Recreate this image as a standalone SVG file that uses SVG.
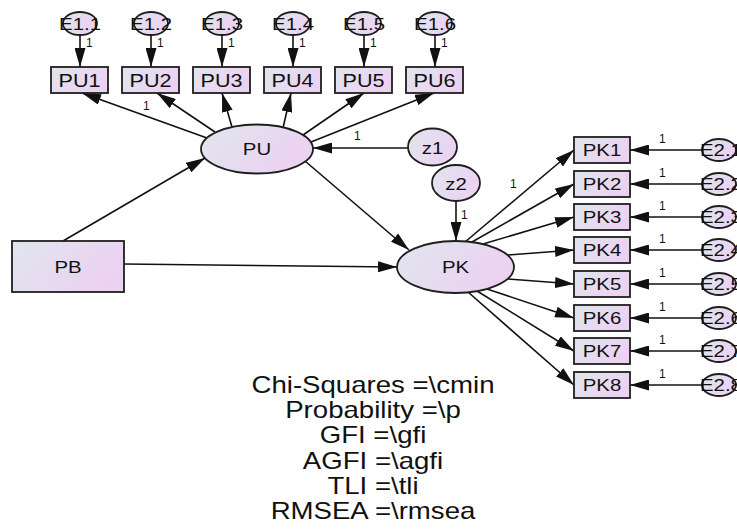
<svg xmlns="http://www.w3.org/2000/svg" width="737" height="532" viewBox="0 0 737 532">
<style>
.n{fill:url(#g);stroke:#1e1e1e;stroke-width:1.8}
.c line{stroke:#111;stroke-width:1.6;marker-end:url(#a)}
text{font-family:"Liberation Sans",Arial,sans-serif;fill:#111}
.lb{font-size:17px;text-anchor:middle}
.bl{font-size:18px;text-anchor:middle}
.e{font-size:17px;text-anchor:middle}
.one{font-size:12px}
.st{font-size:23px;text-anchor:middle}
</style>
<defs>
<linearGradient id="g" x1="0" y1="0" x2="1" y2="0.4">
<stop offset="0" stop-color="#dfe6ee"/>
<stop offset="1" stop-color="#ecd2f1"/>
</linearGradient>
<marker id="a" viewBox="0 0 19 11" markerWidth="19" markerHeight="11" refX="19" refY="5.5" orient="auto" markerUnits="userSpaceOnUse">
<path d="M0,0 L19,5.5 L0,11 z" fill="#111"/>
</marker>
</defs>
<g id="connectors" class="c">
<line x1="80" y1="35" x2="80" y2="67"/>
<line x1="151" y1="35" x2="151" y2="67"/>
<line x1="222" y1="35" x2="222" y2="67"/>
<line x1="293" y1="35" x2="293" y2="67"/>
<line x1="364" y1="35" x2="364" y2="67"/>
<line x1="435" y1="35" x2="435" y2="67"/>
<line x1="207" y1="138" x2="82" y2="93"/>
<line x1="215" y1="132" x2="157" y2="93"/>
<line x1="232" y1="127" x2="222" y2="93"/>
<line x1="283" y1="128" x2="291" y2="93"/>
<line x1="303" y1="135" x2="364" y2="93"/>
<line x1="311" y1="142" x2="434" y2="93"/>
<line x1="63" y1="241" x2="205" y2="158"/>
<line x1="124" y1="264" x2="397" y2="267"/>
<line x1="305" y1="161" x2="409" y2="250"/>
<line x1="408" y1="148" x2="313" y2="148"/>
<line x1="456" y1="201" x2="456" y2="241"/>
<line x1="465" y1="242" x2="574" y2="150"/>
<line x1="472" y1="242" x2="574" y2="184"/>
<line x1="483" y1="244" x2="574" y2="217"/>
<line x1="508" y1="255" x2="574" y2="250"/>
<line x1="508" y1="279" x2="574" y2="284"/>
<line x1="487" y1="289" x2="574" y2="318"/>
<line x1="477" y1="291" x2="574" y2="351"/>
<line x1="468" y1="292" x2="574" y2="385"/>
<line x1="702" y1="150" x2="630" y2="150"/>
<line x1="702" y1="184" x2="630" y2="184"/>
<line x1="702" y1="217" x2="630" y2="217"/>
<line x1="702" y1="250" x2="630" y2="250"/>
<line x1="702" y1="284" x2="630" y2="284"/>
<line x1="702" y1="318" x2="630" y2="318"/>
<line x1="702" y1="351" x2="630" y2="351"/>
<line x1="702" y1="385" x2="630" y2="385"/>
</g>
<g id="labels1">
<text class="one" x="86" y="47">1</text>
<text class="one" x="157" y="47">1</text>
<text class="one" x="228" y="47">1</text>
<text class="one" x="299" y="47">1</text>
<text class="one" x="370" y="47">1</text>
<text class="one" x="441" y="47">1</text>
<text class="one" x="143" y="110">1</text>
<text class="one" x="354" y="140">1</text>
<text class="one" x="461" y="219">1</text>
<text class="one" x="510" y="188">1</text>
<text class="one" x="659" y="143">1</text>
<text class="one" x="659" y="177">1</text>
<text class="one" x="659" y="210">1</text>
<text class="one" x="659" y="243">1</text>
<text class="one" x="659" y="277">1</text>
<text class="one" x="659" y="311">1</text>
<text class="one" x="659" y="344">1</text>
<text class="one" x="659" y="378">1</text>
</g>
<g id="E1.1"><ellipse class="n" cx="80" cy="23.5" rx="17" ry="11.5"/><text class="e" transform="translate(80 30) scale(1.2 1)">E1.1</text></g>
<g id="E1.2"><ellipse class="n" cx="151" cy="23.5" rx="17" ry="11.5"/><text class="e" transform="translate(151 30) scale(1.2 1)">E1.2</text></g>
<g id="E1.3"><ellipse class="n" cx="222" cy="23.5" rx="17" ry="11.5"/><text class="e" transform="translate(222 30) scale(1.2 1)">E1.3</text></g>
<g id="E1.4"><ellipse class="n" cx="293" cy="23.5" rx="17" ry="11.5"/><text class="e" transform="translate(293 30) scale(1.2 1)">E1.4</text></g>
<g id="E1.5"><ellipse class="n" cx="364" cy="23.5" rx="17" ry="11.5"/><text class="e" transform="translate(364 30) scale(1.2 1)">E1.5</text></g>
<g id="E1.6"><ellipse class="n" cx="435" cy="23.5" rx="17" ry="11.5"/><text class="e" transform="translate(435 30) scale(1.2 1)">E1.6</text></g>
<g id="PU1"><rect class="n" x="51" y="67" width="57" height="26"/><text class="bl" transform="translate(79.5 86.5) scale(1.2 1)">PU1</text></g>
<g id="PU2"><rect class="n" x="122" y="67" width="57" height="26"/><text class="bl" transform="translate(150.5 86.5) scale(1.2 1)">PU2</text></g>
<g id="PU3"><rect class="n" x="193" y="67" width="57" height="26"/><text class="bl" transform="translate(221.5 86.5) scale(1.2 1)">PU3</text></g>
<g id="PU4"><rect class="n" x="264" y="67" width="57" height="26"/><text class="bl" transform="translate(292.5 86.5) scale(1.2 1)">PU4</text></g>
<g id="PU5"><rect class="n" x="335" y="67" width="57" height="26"/><text class="bl" transform="translate(363.5 86.5) scale(1.2 1)">PU5</text></g>
<g id="PU6"><rect class="n" x="406" y="67" width="57" height="26"/><text class="bl" transform="translate(434.5 86.5) scale(1.2 1)">PU6</text></g>
<g id="PU"><ellipse class="n" cx="257" cy="149" rx="56" ry="24.5"/><text class="lb" transform="translate(257 155) scale(1.2 1)">PU</text></g>
<g id="z1"><ellipse class="n" cx="432.5" cy="147" rx="24.5" ry="18.5"/><text class="lb" transform="translate(432.5 153.5) scale(1.2 1)">z1</text></g>
<g id="z2"><ellipse class="n" cx="456" cy="183" rx="24" ry="18"/><text class="lb" transform="translate(456 189.5) scale(1.2 1)">z2</text></g>
<g id="PB"><rect class="n" x="12" y="241" width="112" height="51"/><text class="lb" transform="translate(68 273) scale(1.2 1)">PB</text></g>
<g id="PK"><ellipse class="n" cx="455.5" cy="267" rx="58.5" ry="26"/><text class="lb" transform="translate(455.5 273) scale(1.2 1)">PK</text></g>
<g id="PK1"><rect class="n" x="574" y="137" width="56" height="26"/><text class="lb" transform="translate(602 156) scale(1.2 1)">PK1</text></g>
<g id="PK2"><rect class="n" x="574" y="171" width="56" height="26"/><text class="lb" transform="translate(602 190) scale(1.2 1)">PK2</text></g>
<g id="PK3"><rect class="n" x="574" y="204" width="56" height="26"/><text class="lb" transform="translate(602 223) scale(1.2 1)">PK3</text></g>
<g id="PK4"><rect class="n" x="574" y="237" width="56" height="26"/><text class="lb" transform="translate(602 256) scale(1.2 1)">PK4</text></g>
<g id="PK5"><rect class="n" x="574" y="271" width="56" height="26"/><text class="lb" transform="translate(602 290) scale(1.2 1)">PK5</text></g>
<g id="PK6"><rect class="n" x="574" y="305" width="56" height="26"/><text class="lb" transform="translate(602 324) scale(1.2 1)">PK6</text></g>
<g id="PK7"><rect class="n" x="574" y="338" width="56" height="26"/><text class="lb" transform="translate(602 357) scale(1.2 1)">PK7</text></g>
<g id="PK8"><rect class="n" x="574" y="372" width="56" height="26"/><text class="lb" transform="translate(602 391) scale(1.2 1)">PK8</text></g>
<g id="E2.1"><ellipse class="n" cx="719" cy="150" rx="17" ry="11"/><text class="e" style="text-anchor:start" transform="translate(700 156) scale(1.2 1)">E2.1</text></g>
<g id="E2.2"><ellipse class="n" cx="719" cy="184" rx="17" ry="11"/><text class="e" style="text-anchor:start" transform="translate(700 190) scale(1.2 1)">E2.2</text></g>
<g id="E2.3"><ellipse class="n" cx="719" cy="217" rx="17" ry="11"/><text class="e" style="text-anchor:start" transform="translate(700 223) scale(1.2 1)">E2.3</text></g>
<g id="E2.4"><ellipse class="n" cx="719" cy="250" rx="17" ry="11"/><text class="e" style="text-anchor:start" transform="translate(700 256) scale(1.2 1)">E2.4</text></g>
<g id="E2.5"><ellipse class="n" cx="719" cy="284" rx="17" ry="11"/><text class="e" style="text-anchor:start" transform="translate(700 290) scale(1.2 1)">E2.5</text></g>
<g id="E2.6"><ellipse class="n" cx="719" cy="318" rx="17" ry="11"/><text class="e" style="text-anchor:start" transform="translate(700 324) scale(1.2 1)">E2.6</text></g>
<g id="E2.7"><ellipse class="n" cx="719" cy="351" rx="17" ry="11"/><text class="e" style="text-anchor:start" transform="translate(700 357) scale(1.2 1)">E2.7</text></g>
<g id="E2.8"><ellipse class="n" cx="719" cy="385" rx="17" ry="11"/><text class="e" style="text-anchor:start" transform="translate(700 391) scale(1.2 1)">E2.8</text></g>
<g id="fit" transform="translate(373 0) scale(1.2 1)">
<text class="st" x="0" y="393">Chi-Squares =\cmin</text>
<text class="st" x="0" y="418">Probability =\p</text>
<text class="st" x="0" y="443">GFI =\gfi</text>
<text class="st" x="0" y="469">AGFI =\agfi</text>
<text class="st" x="0" y="494">TLI =\tli</text>
<text class="st" x="0" y="519">RMSEA =\rmsea</text>
</g>
</svg>
